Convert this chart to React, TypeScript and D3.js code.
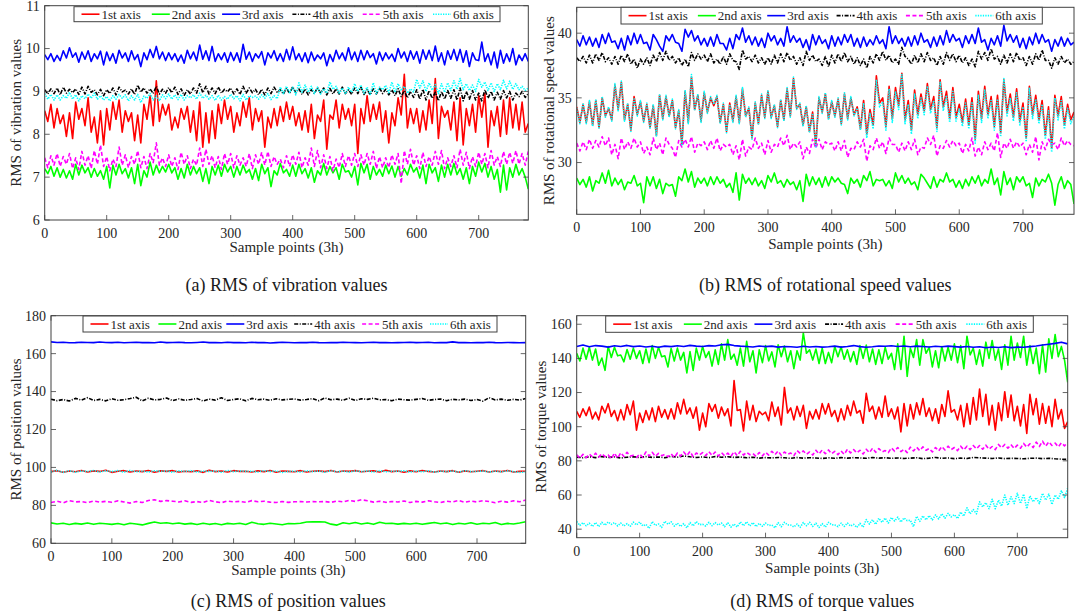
import React, { useEffect, useRef } from 'react';
import * as d3 from 'd3';

// every series spans sample points 0 .. 780; values are evenly spaced over that range
const X_MAX = 780;

const seriesNames = ['1st axis', '2nd axis', '3rd axis', '4th axis', '5th axis', '6th axis'];
const xTicks = [0, 100, 200, 300, 400, 500, 600, 700];

// (a) RMS of vibration values (one value per 5 samples)
const vib1 = [
  8.55, 8.30, 8.70, 8.15, 8.60, 8.25, 8.45, 7.95, 8.50, 7.90,
  8.75, 8.35, 8.60, 8.20, 8.85, 8.05, 8.40, 7.80, 8.55, 7.75,
  8.60, 8.10, 8.75, 8.35, 8.80, 8.05, 8.55, 8.30, 8.50, 7.85,
  8.45, 7.80, 8.70, 8.35, 8.90, 8.20, 9.25, 8.30, 8.70, 8.45,
  8.70, 8.10, 8.40, 8.15, 8.60, 8.35, 8.65, 8.05, 8.55, 7.85,
  8.75, 7.70, 8.50, 7.80, 8.55, 7.90, 8.70, 8.25, 8.80, 8.35,
  8.65, 8.05, 8.50, 8.20, 8.75, 8.40, 8.85, 8.10, 8.60, 8.30,
  8.55, 7.70, 8.40, 8.15, 8.60, 8.20, 8.65, 8.30, 8.75, 8.35,
  8.65, 8.20, 8.50, 8.10, 8.55, 8.05, 8.70, 7.90, 8.45, 8.30,
  8.80, 7.65, 8.45, 8.35, 8.80, 8.15, 8.70, 8.35, 8.60, 8.20,
  8.70, 7.55, 8.60, 8.25, 8.90, 8.30, 8.70, 8.35, 8.75, 8.05,
  8.55, 7.80, 8.50, 8.20, 8.85, 8.45, 9.40, 8.15, 8.60, 8.25,
  8.60, 8.05, 8.55, 8.10, 8.80, 8.25, 9.30, 7.90, 8.65, 8.40,
  8.55, 8.10, 8.75, 7.85, 8.85, 7.75, 8.60, 8.20, 8.70, 8.05,
  8.90, 8.40, 8.95, 7.70, 8.55, 8.20, 8.65, 7.95, 8.80, 8.00,
  8.85, 8.15, 8.70, 8.10, 8.75, 8.05, 8.25,
];
const vib2 = [
  7.20, 7.08, 7.25, 7.02, 7.22, 7.00, 7.18, 6.98, 7.15, 6.95,
  7.30, 7.05, 7.28, 7.10, 7.22, 7.00, 7.20, 7.02, 7.15, 6.95,
  7.25, 6.75, 7.28, 7.05, 7.30, 7.08, 7.20, 6.98, 7.22, 6.85,
  7.30, 6.80, 7.15, 7.00, 7.35, 7.05, 7.28, 7.10, 7.25, 7.12,
  7.30, 7.10, 7.22, 6.95, 7.20, 6.98, 7.30, 7.05, 7.25, 7.08,
  7.22, 6.90, 7.20, 6.85, 7.25, 7.05, 7.28, 7.02, 7.30, 7.12,
  7.25, 7.00, 7.25, 7.05, 7.28, 7.10, 7.18, 6.95, 7.20, 6.92,
  7.30, 7.08, 7.22, 6.78, 7.15, 7.05, 7.32, 7.10, 7.18, 7.02,
  7.28, 7.02, 7.30, 7.08, 7.20, 6.98, 7.22, 6.88, 7.15, 7.05,
  7.32, 7.05, 7.25, 7.10, 7.22, 6.95, 7.30, 7.12, 7.15, 7.00,
  7.25, 6.82, 7.32, 7.10, 7.30, 6.95, 7.25, 7.05, 7.18, 7.02,
  7.28, 7.08, 7.26, 7.00, 7.25, 7.02, 7.20, 7.05, 7.30, 7.12,
  7.22, 6.98, 7.28, 6.85, 7.30, 7.10, 7.22, 6.90, 7.28, 7.00,
  7.30, 7.05, 7.32, 7.06, 7.20, 6.95, 7.22, 6.85, 7.25, 7.02,
  7.35, 7.12, 7.32, 7.00, 7.25, 6.95, 7.18, 6.65, 7.28, 6.70,
  7.22, 7.00, 7.30, 7.05, 7.20, 7.00, 6.72,
];
const vib3 = [
  9.86, 9.74, 9.88, 9.70, 9.84, 9.72, 9.95, 9.78, 10.02, 9.80,
  9.90, 9.68, 9.92, 9.75, 9.95, 9.70, 9.88, 9.76, 9.94, 9.62,
  9.92, 9.72, 9.88, 9.66, 9.96, 9.78, 9.90, 9.70, 9.95, 9.74,
  9.86, 9.58, 9.90, 9.74, 9.98, 9.79, 10.05, 9.76, 9.92, 9.72,
  9.90, 9.74, 9.88, 9.70, 9.85, 9.66, 9.96, 9.76, 9.92, 9.72,
  10.08, 9.75, 9.95, 9.72, 10.05, 9.70, 9.88, 9.74, 9.90, 9.68,
  9.91, 9.72, 9.90, 9.68, 10.10, 9.75, 9.92, 9.70, 9.88, 9.78,
  9.93, 9.62, 9.90, 9.78, 9.95, 9.72, 9.88, 9.70, 9.98, 9.74,
  10.04, 9.74, 9.88, 9.70, 9.90, 9.67, 9.92, 9.72, 9.85, 9.76,
  9.90, 9.60, 9.86, 9.70, 9.96, 9.76, 9.90, 9.72, 10.02, 9.74,
  9.92, 9.70, 9.96, 9.74, 9.95, 9.79, 9.88, 9.64, 9.92, 9.72,
  9.90, 9.76, 9.87, 9.70, 10.00, 9.78, 9.92, 9.70, 9.95, 9.75,
  9.93, 9.66, 9.97, 9.75, 9.96, 9.72, 10.06, 9.70, 9.90, 9.62,
  9.95, 9.75, 9.98, 9.72, 9.98, 9.68, 9.95, 9.58, 9.90, 9.74,
  9.72, 10.15, 9.70, 9.88, 9.62, 9.92, 9.55, 9.96, 9.66, 9.88,
  9.70, 10.00, 9.62, 9.85, 9.72, 9.88, 9.70,
];
const vib4 = [
  9.04, 8.94, 9.06, 8.95, 9.08, 8.92, 9.10, 8.96, 9.05, 8.97,
  9.06, 8.93, 9.10, 8.94, 9.12, 8.98, 9.04, 8.92, 9.05, 8.90,
  9.04, 8.95, 9.08, 8.92, 9.10, 8.99, 9.03, 8.94, 9.06, 8.93,
  9.15, 8.98, 9.08, 8.96, 9.06, 8.95, 9.12, 8.94, 9.05, 8.96,
  9.09, 8.97, 9.10, 8.93, 9.06, 8.91, 9.04, 8.94, 9.08, 8.96,
  9.18, 8.97, 9.12, 8.94, 9.08, 8.95, 9.10, 8.96, 9.05, 8.99,
  9.08, 8.94, 9.06, 8.93, 9.12, 8.96, 9.08, 8.97, 9.05, 8.92,
  9.05, 8.92, 9.08, 8.95, 9.10, 8.98, 9.04, 8.94, 9.08, 8.95,
  9.11, 8.97, 9.06, 8.93, 9.06, 8.92, 9.04, 8.95, 9.09, 8.96,
  9.08, 8.92, 9.07, 8.94, 9.06, 8.94, 9.10, 8.95, 9.04, 8.93,
  9.08, 8.95, 9.10, 8.93, 9.04, 8.92, 9.06, 8.94, 9.08, 8.95,
  9.05, 8.92, 9.04, 8.90, 9.06, 8.88, 9.02, 8.85, 9.00, 8.86,
  9.04, 8.82, 9.05, 8.80, 9.02, 8.84, 8.98, 8.78, 9.00, 8.82,
  9.02, 8.84, 9.04, 8.80, 9.08, 8.78, 9.00, 8.82, 9.02, 8.80,
  8.96, 8.78, 9.04, 8.84, 9.00, 8.80, 8.98, 8.82, 9.02, 8.85,
  9.00, 8.80, 8.96, 8.88, 9.00, 8.86, 8.95,
];
const vib5 = [
  7.45, 7.22, 7.50, 7.28, 7.55, 7.25, 7.48, 7.30, 7.55, 7.20,
  7.45, 7.18, 7.60, 7.28, 7.50, 7.20, 7.62, 7.30, 7.75, 7.25,
  7.48, 7.15, 7.42, 7.25, 7.70, 7.28, 7.52, 7.22, 7.48, 7.30,
  7.62, 7.22, 7.48, 7.20, 7.55, 7.34, 7.80, 7.28, 7.45, 7.25,
  7.52, 7.25, 7.45, 7.18, 7.58, 7.30, 7.50, 7.20, 7.42, 7.28,
  7.68, 7.25, 7.65, 7.30, 7.50, 7.22, 7.48, 7.18, 7.55, 7.30,
  7.55, 7.22, 7.50, 7.28, 7.45, 7.25, 7.55, 7.20, 7.52, 7.30,
  7.58, 7.28, 7.60, 7.25, 7.48, 7.30, 7.42, 7.22, 7.50, 7.25,
  7.52, 7.30, 7.58, 7.22, 7.45, 7.28, 7.68, 7.25, 7.62, 7.22,
  7.52, 7.20, 7.48, 7.15, 7.42, 7.22, 7.55, 7.25, 7.50, 7.28,
  7.55, 7.25, 7.52, 7.28, 7.55, 7.30, 7.60, 7.20, 7.48, 7.22,
  7.45, 7.22, 7.52, 7.30, 7.55, 6.85, 7.62, 7.30, 7.65, 7.28,
  7.50, 7.20, 7.58, 7.25, 7.48, 7.28, 7.60, 7.30, 7.62, 7.20,
  7.45, 7.25, 7.50, 7.22, 7.65, 7.28, 7.58, 7.20, 7.48, 7.25,
  7.58, 7.30, 7.55, 7.22, 7.62, 7.28, 7.48, 7.25, 7.60, 7.30,
  7.58, 7.32, 7.62, 7.30, 7.55, 7.28, 7.60,
];
const vib6 = [
  8.95, 8.82, 8.93, 8.80, 8.92, 8.80, 8.90, 8.84, 8.98, 8.82,
  8.92, 8.78, 8.90, 8.83, 8.94, 8.84, 8.96, 8.82, 8.90, 8.80,
  8.88, 8.78, 8.90, 8.82, 8.93, 8.84, 8.92, 8.78, 8.90, 8.80,
  8.93, 8.74, 8.89, 8.84, 8.95, 8.80, 8.90, 8.78, 8.92, 8.83,
  8.94, 8.82, 8.92, 8.81, 8.93, 8.80, 8.90, 8.85, 8.92, 8.82,
  8.96, 8.84, 8.91, 8.82, 8.90, 8.79, 8.91, 8.80, 8.88, 8.82,
  8.93, 8.83, 8.90, 8.78, 8.93, 8.80, 8.90, 8.86, 8.89, 8.82,
  8.92, 8.84, 8.95, 8.81, 8.90, 8.83, 9.10, 8.95, 9.12, 8.97,
  9.10, 8.92, 9.20, 8.98, 9.15, 8.98, 9.12, 8.95, 9.10, 8.94,
  9.06, 8.96, 9.22, 9.05, 9.12, 8.96, 9.08, 8.94, 9.10, 8.98,
  9.18, 9.00, 9.15, 8.96, 9.10, 8.93, 9.20, 8.95, 9.10, 9.04,
  9.14, 8.97, 9.22, 8.98, 9.18, 9.02, 9.12, 8.96, 9.06, 8.99,
  9.28, 9.08, 9.25, 9.00, 9.20, 9.03, 9.16, 8.95, 9.18, 8.98,
  9.20, 9.02, 9.25, 9.05, 9.30, 9.04, 9.18, 9.02, 9.15, 9.00,
  9.28, 9.10, 9.22, 9.02, 9.20, 9.00, 9.18, 9.04, 9.26, 9.06,
  9.24, 9.05, 9.18, 9.04, 9.12, 9.02, 9.08,
];

// (b) RMS of rotational speed values (one value per 5 samples)
const spd1 = [
  34.3, 33.1, 34.5, 33.1, 34.7, 32.9, 34.8, 32.7, 35.0, 33.6,
  34.2, 33.3, 36.0, 34.1, 36.2, 33.3, 34.5, 32.5, 35.1, 33.7,
  34.7, 33.2, 34.5, 32.7, 34.4, 32.1, 35.2, 33.4, 35.1, 33.6,
  34.8, 32.7, 34.0, 31.4, 35.5, 33.1, 36.6, 34.1, 35.2, 33.2,
  35.4, 33.9, 35.0, 34.4, 35.1, 33.1, 34.5, 32.4, 34.6, 33.2,
  35.1, 33.1, 35.7, 33.6, 34.2, 31.9, 34.6, 33.0, 35.2, 33.5,
  35.5, 33.5, 34.4, 32.8, 34.8, 33.3, 35.7, 33.6, 36.5, 34.2,
  34.5, 32.9, 34.3, 32.4, 33.9, 31.3, 35.0, 33.9, 35.3, 33.4,
  34.7, 33.6, 34.9, 33.0, 35.3, 33.4, 35.0, 33.7, 34.3, 32.6,
  34.8, 32.2, 34.1, 32.9, 36.7, 34.6, 35.0, 32.8, 35.9, 33.4,
  35.8, 34.4, 36.9, 33.3, 34.8, 32.5, 35.6, 33.7, 35.3, 34.0,
  36.1, 34.1, 35.1, 32.7, 36.4, 34.3, 35.5, 33.4, 35.8, 33.5,
  34.5, 33.1, 34.9, 32.9, 35.0, 31.8, 35.5, 33.4, 35.9, 33.7,
  35.1, 32.8, 35.2, 32.3, 36.4, 33.9, 35.3, 33.5, 35.7, 33.2,
  34.6, 31.9, 35.9, 33.7, 35.2, 33.3, 34.8, 32.1, 34.3, 31.1,
  35.2, 33.6, 35.1, 32.9, 34.5, 33.3, 33.9,
];
const spd2 = [
  28.8, 28.3, 28.7, 28.1, 28.9, 27.8, 28.6, 28.4, 29.2, 28.4,
  29.4, 28.2, 28.8, 28.3, 28.7, 27.9, 28.5, 28.4, 29.0, 28.2,
  28.4, 26.9, 28.9, 28.2, 28.9, 28.0, 28.7, 27.6, 28.4, 28.2,
  28.3, 27.4, 28.9, 28.6, 29.5, 28.5, 29.3, 28.1, 28.8, 28.4,
  28.8, 28.2, 28.9, 28.3, 28.9, 28.4, 28.7, 28.1, 28.4, 27.7,
  29.2, 27.1, 29.1, 28.4, 28.8, 28.3, 28.8, 28.2, 28.6, 28.0,
  29.0, 28.5, 29.2, 28.4, 28.6, 28.1, 28.7, 28.3, 28.5, 27.9,
  28.6, 27.0, 29.1, 28.2, 28.9, 28.3, 28.8, 28.1, 28.9, 28.2,
  28.9, 28.5, 28.8, 28.4, 28.3, 27.6, 28.8, 28.4, 28.7, 28.1,
  29.0, 28.6, 29.3, 28.2, 28.7, 28.6, 28.7, 28.2, 28.6, 28.0,
  29.2, 28.5, 29.0, 28.4, 28.8, 28.3, 28.5, 27.9, 29.1, 28.8,
  28.4, 28.0, 28.9, 28.1, 28.7, 28.5, 29.2, 28.5, 28.7, 28.1,
  28.6, 28.0, 28.7, 28.2, 28.9, 28.4, 29.0, 28.2, 28.7, 28.4,
  29.5, 28.3, 28.8, 27.5, 29.3, 28.3, 28.8, 27.9, 28.9, 28.5,
  28.9, 28.2, 28.4, 27.3, 28.8, 28.2, 28.7, 28.5, 29.1, 28.4,
  26.7, 28.3, 28.9, 28.0, 28.6, 28.3, 26.8,
];
const spd3 = [
  39.5, 39.0, 39.8, 39.1, 39.7, 39.0, 39.6, 38.9, 39.9, 39.2,
  40.0, 39.3, 39.4, 38.8, 39.6, 38.7, 39.8, 39.1, 40.0, 39.2,
  39.9, 39.2, 39.3, 38.7, 39.9, 39.5, 39.0, 38.6, 39.8, 39.4,
  39.9, 39.3, 39.2, 38.6, 40.3, 39.7, 40.2, 39.4, 39.8, 39.1,
  39.6, 39.0, 39.7, 39.0, 39.9, 39.2, 39.2, 38.7, 39.6, 38.8,
  39.9, 39.5, 40.4, 39.3, 39.8, 39.1, 39.7, 39.0, 39.6, 38.9,
  40.0, 39.4, 39.8, 39.1, 39.6, 39.0, 40.5, 39.3, 39.8, 39.3,
  39.6, 38.9, 39.5, 38.7, 39.9, 39.1, 39.8, 39.2, 39.5, 38.8,
  39.8, 39.0, 39.7, 39.1, 39.9, 39.3, 39.9, 39.0, 39.6, 38.9,
  39.7, 39.0, 39.5, 39.1, 39.8, 39.2, 39.5, 38.8, 40.5, 39.2,
  39.8, 39.2, 39.6, 39.0, 39.7, 39.0, 39.8, 39.1, 40.0, 39.3,
  39.5, 38.9, 39.7, 39.0, 39.8, 39.1, 40.2, 39.3, 39.9, 39.4,
  39.6, 38.9, 39.8, 39.2, 39.9, 39.2, 40.4, 39.3, 39.5, 38.7,
  39.6, 39.1, 39.8, 39.0, 40.6, 39.4, 39.9, 39.3, 39.8, 38.9,
  39.6, 38.8, 39.7, 39.1, 40.0, 39.2, 39.9, 39.3, 39.5, 38.6,
  39.5, 39.0, 39.7, 39.0, 39.6, 39.1, 39.3,
];
const spd4 = [
  38.1, 37.8, 38.2, 37.7, 38.3, 37.7, 38.4, 37.9, 38.5, 37.8,
  38.1, 37.6, 38.2, 37.6, 38.3, 37.8, 38.4, 37.6, 38.0, 37.3,
  38.0, 37.6, 38.1, 37.5, 38.3, 37.8, 38.5, 37.9, 38.6, 37.9,
  38.2, 37.7, 38.1, 37.5, 38.0, 37.4, 38.5, 37.9, 38.4, 38.0,
  38.3, 37.8, 38.4, 37.7, 38.0, 37.6, 38.2, 37.6, 38.4, 37.9,
  37.8, 37.2, 38.7, 38.0, 38.2, 37.8, 38.3, 37.7, 38.1, 37.6,
  38.1, 37.6, 38.3, 37.7, 38.4, 37.8, 38.5, 37.9, 38.2, 37.6,
  38.1, 37.5, 38.6, 37.9, 38.3, 37.8, 38.0, 37.5, 38.2, 37.4,
  38.3, 37.7, 38.4, 37.8, 38.5, 37.8, 38.2, 37.6, 38.1, 37.5,
  38.0, 37.3, 38.2, 37.7, 38.4, 37.9, 38.6, 37.9, 38.3, 37.7,
  38.0, 37.6, 38.9, 38.2, 38.0, 37.6, 38.3, 37.7, 38.4, 37.8,
  38.5, 37.9, 38.1, 37.5, 38.2, 37.6, 38.5, 37.9, 38.4, 37.8,
  38.3, 37.7, 38.1, 37.5, 38.0, 37.4, 38.6, 38.0, 38.5, 37.9,
  38.8, 38.0, 38.2, 37.6, 38.3, 37.7, 38.4, 37.8, 38.5, 37.9,
  38.1, 37.5, 38.2, 37.6, 38.4, 37.9, 38.7, 37.9, 37.9, 37.3,
  38.1, 37.6, 38.2, 37.7, 38.0, 37.6, 37.8,
];
const spd5 = [
  31.5, 30.9, 31.6, 31.0, 31.8, 31.1, 31.7, 31.2, 32.0, 31.3,
  31.9, 30.6, 31.4, 30.3, 31.9, 31.0, 31.6, 31.1, 31.9, 31.2,
  31.6, 30.7, 31.2, 30.6, 31.9, 31.0, 31.5, 30.6, 31.9, 31.4,
  31.1, 30.4, 31.7, 31.2, 31.8, 31.2, 32.0, 30.8, 31.5, 31.3,
  31.6, 31.0, 31.7, 31.1, 31.9, 30.9, 31.4, 31.2, 31.4, 30.6,
  31.3, 30.2, 31.8, 30.5, 31.2, 31.0, 31.9, 31.1, 31.5, 30.6,
  31.7, 30.8, 31.4, 31.2, 31.9, 31.3, 32.1, 31.0, 31.5, 31.2,
  31.6, 30.3, 31.2, 30.7, 31.8, 31.1, 31.8, 31.0, 31.6, 31.4,
  31.5, 30.9, 31.6, 30.9, 31.7, 30.4, 31.1, 31.0, 31.6, 31.2,
  31.8, 30.1, 31.3, 31.0, 31.9, 31.1, 31.6, 30.7, 31.9, 31.4,
  31.4, 30.8, 31.5, 30.9, 31.6, 31.0, 31.8, 30.6, 31.2, 31.1,
  31.9, 31.4, 32.1, 30.5, 31.3, 31.1, 31.7, 31.2, 31.7, 31.3,
  31.5, 30.7, 31.4, 30.9, 31.9, 30.5, 31.2, 30.6, 31.6, 31.0,
  31.5, 30.9, 32.3, 30.4, 31.5, 31.1, 31.8, 31.1, 31.6, 31.2,
  31.5, 30.6, 31.4, 30.8, 32.0, 30.2, 31.6, 31.0, 31.8, 31.4,
  31.5, 31.0, 31.9, 31.3, 31.7, 31.4, 31.3,
];
const spd6 = [
  34.2, 33.0, 34.6, 33.0, 34.8, 32.8, 34.9, 32.6, 35.1, 33.5,
  34.3, 33.2, 36.1, 34.0, 36.3, 33.2, 34.6, 32.4, 35.0, 33.6,
  34.8, 33.1, 34.6, 32.6, 34.5, 32.0, 35.3, 33.3, 35.2, 33.5,
  34.9, 32.6, 34.1, 31.3, 35.6, 33.0, 36.8, 34.0, 35.3, 33.1,
  35.5, 33.8, 35.1, 34.5, 35.2, 33.0, 34.6, 32.3, 34.5, 33.1,
  35.2, 33.0, 35.8, 33.5, 34.3, 31.8, 34.7, 32.9, 35.3, 33.4,
  35.6, 33.4, 34.5, 32.7, 34.9, 33.2, 35.8, 33.5, 36.6, 34.1,
  34.6, 32.8, 34.4, 32.3, 33.8, 31.2, 35.1, 33.8, 35.4, 33.3,
  34.8, 33.5, 35.0, 32.9, 35.4, 33.3, 35.1, 33.6, 34.2, 32.5,
  34.6, 31.9, 33.8, 32.6, 36.4, 34.3, 34.7, 32.5, 35.7, 33.1,
  35.5, 34.1, 36.8, 33.0, 34.5, 32.2, 35.3, 33.4, 35.0, 33.7,
  35.9, 33.8, 34.8, 32.4, 36.2, 34.0, 35.2, 33.1, 35.5, 33.2,
  34.2, 32.8, 34.6, 32.6, 34.7, 31.5, 35.2, 33.1, 35.6, 33.4,
  34.8, 32.5, 34.9, 32.0, 36.5, 33.6, 35.0, 33.2, 35.4, 32.9,
  34.3, 31.6, 35.8, 33.4, 34.9, 33.0, 34.5, 31.8, 34.0, 30.8,
  35.0, 33.3, 34.8, 32.6, 34.2, 33.0, 33.6,
];

// (c) RMS of position values (one value per 10 samples)
const pos1 = [
  97.8, 98.3, 97.5, 98.1, 97.7, 98.4, 97.6, 98.2, 97.9, 98.5,
  97.4, 98.0, 98.3, 97.6, 98.1, 97.8, 98.4, 97.5, 98.2, 97.9,
  98.3, 97.6, 98.0, 97.7, 98.2, 97.4, 98.5, 97.8, 98.1, 97.6,
  98.3, 97.9, 98.0, 97.6, 98.2, 97.8, 98.4, 97.5, 98.1, 97.9,
  97.7, 98.3, 97.6, 98.0, 98.2, 97.8, 98.4, 97.6, 98.1, 97.9,
  98.3, 97.7, 98.0, 98.2, 97.6, 98.5, 97.8, 98.1, 97.5, 98.2,
  97.7, 98.4, 97.9, 97.6, 98.1, 97.8, 98.3, 97.5, 98.2, 97.7,
  98.0, 98.3, 97.6, 98.1, 97.8, 98.4, 97.6, 97.9, 98.0,
];
const pos2 = [
  70.8, 70.2, 70.6, 69.9, 70.5, 70.1, 70.7, 70.0, 70.6, 70.3,
  70.0, 70.4, 69.8, 70.6, 70.2, 69.7, 70.5, 71.2, 70.6, 70.8,
  70.3, 70.7, 70.1, 70.5, 69.9, 70.6, 70.0, 70.4, 69.8, 70.5,
  70.2, 70.6, 69.9, 71.1, 70.3, 70.0, 70.6, 70.2, 69.8, 70.4,
  70.3, 70.6, 71.2, 71.3, 71.3, 71.2, 70.1, 69.6, 70.8, 70.3,
  71.0, 70.2, 70.7, 70.0, 71.1, 70.4, 70.6, 70.1, 70.5, 70.2,
  70.6, 70.0, 70.5, 71.0, 70.3, 70.7, 69.9, 70.6, 70.2, 70.8,
  70.0, 70.6, 70.3, 71.0, 69.9, 70.5, 70.2, 70.7, 71.4,
];
const pos3 = [
  166.2, 165.9, 166.0, 165.7, 165.8, 166.0, 165.9, 165.8, 166.1, 165.9,
  165.8, 166.0, 165.7, 165.9, 166.0, 165.8, 165.9, 165.7, 166.1, 165.8,
  165.9, 166.0, 165.8, 165.7, 165.9, 166.1, 165.8, 165.9, 165.7, 166.0,
  165.8, 165.9, 165.7, 166.0, 165.8, 165.9, 165.6, 165.8, 166.0, 165.9,
  165.7, 165.9, 165.8, 166.0, 165.8, 165.7, 165.9, 165.8, 166.0, 165.9,
  165.8, 165.7, 165.9, 166.0, 165.8, 165.9, 165.7, 165.8, 165.9, 166.0,
  165.8, 165.9, 166.0, 165.7, 165.9, 165.8, 166.2, 165.8, 165.9, 165.7,
  165.9, 165.8, 166.0, 165.8, 165.7, 165.9, 165.8, 165.7, 165.8,
];
const pos4 = [
  136.0, 135.2, 135.8, 135.0, 136.4, 135.5, 136.8, 135.3, 135.9, 135.1,
  136.2, 135.4, 135.7, 136.3, 137.0, 135.1, 136.5, 135.6, 135.9, 136.6,
  135.2, 136.1, 135.4, 135.8, 136.3, 135.0, 136.0, 135.5, 136.7, 135.3,
  135.8, 136.2, 135.1, 136.4, 135.7, 136.0, 135.4, 136.2, 135.6, 135.9,
  136.1, 135.5, 135.8, 136.3, 135.2, 136.6, 135.7, 136.0, 135.4, 136.5,
  135.3, 136.2, 135.9, 136.5, 135.6, 135.8, 135.2, 136.0, 135.7, 135.5,
  135.9, 136.3, 135.4, 135.8, 136.1, 135.2, 135.9, 135.6, 136.0, 135.3,
  135.8, 134.9, 136.8, 135.6, 136.0, 135.4, 135.9, 135.5, 136.3,
];
const pos5 = [
  81.5, 82.2, 81.3, 82.5, 81.8, 82.0, 81.4, 82.3, 81.7, 82.1,
  81.6, 82.4, 81.8, 81.2, 82.0, 81.5, 82.6, 83.0, 82.1, 82.5,
  82.2, 81.8, 82.4, 81.6, 82.0, 81.5, 82.6, 81.9, 81.4, 82.3,
  81.8, 82.1, 81.6, 82.5, 81.9, 82.2, 81.7, 81.5, 82.0, 81.6,
  81.9, 82.0, 81.8, 82.0, 81.9, 82.0, 81.6, 82.3, 81.8, 82.6,
  82.1, 83.0, 82.4, 81.7, 82.2, 81.6, 82.0, 81.8, 82.3, 81.5,
  82.1, 81.7, 82.4, 81.9, 81.5, 82.2, 81.8, 82.6, 81.6, 82.3,
  81.8, 82.5, 82.0, 81.4, 82.2, 81.7, 82.4, 81.9, 82.8,
];
const pos6 = [
  97.6, 98.5, 97.4, 98.3, 97.5, 98.1, 97.9, 98.4, 97.6, 98.2,
  97.8, 98.3, 97.5, 98.4, 97.7, 98.0, 97.6, 98.2, 97.9, 98.1,
  97.5, 98.2, 97.8, 98.3, 97.6, 98.0, 97.9, 98.1, 97.5, 98.4,
  97.7, 98.2, 97.9, 98.0, 97.6, 98.3, 97.8, 98.1, 97.4, 97.9,
  98.0, 97.6, 98.2, 97.8, 98.1, 97.5, 98.3, 97.7, 98.0, 97.6,
  98.2, 97.8, 98.1, 97.6, 98.3, 97.7, 98.0, 97.9, 98.2, 97.6,
  98.1, 97.7, 98.2, 97.5, 98.0, 97.8, 98.1, 97.6, 98.3, 97.8,
  97.9, 98.1, 97.6, 98.0, 97.7, 98.2, 97.8, 97.4, 97.6,
];

// (d) RMS of torque values (noisy series one value per 5 samples, smooth ones per 10)
const trq1 = [
  109.0, 105.5, 110.5, 106.5, 111.5, 104.5, 108.5, 104.0, 112.0, 108.0,
  113.5, 106.0, 109.5, 103.5, 110.0, 104.0, 113.0, 107.0, 115.0, 98.0,
  108.0, 102.5, 109.5, 104.0, 111.0, 103.0, 112.0, 105.5, 110.0, 104.5,
  110.5, 104.5, 114.0, 107.5, 116.0, 107.5, 111.0, 105.0, 111.5, 98.0,
  108.0, 100.0, 113.5, 109.0, 113.0, 105.0, 111.5, 106.5, 110.5, 100.5,
  127.0, 109.5, 110.0, 97.5, 115.0, 104.0, 112.5, 103.0, 109.0, 107.0,
  108.5, 103.5, 114.5, 106.0, 111.5, 101.0, 123.0, 108.0, 111.0, 104.0,
  112.0, 106.0, 112.5, 99.0, 109.0, 104.5, 110.0, 104.5, 113.5, 107.5,
  113.5, 106.0, 109.5, 103.0, 110.5, 104.0, 112.5, 106.5, 115.0, 108.0,
  109.5, 102.0, 119.5, 109.0, 112.0, 104.5, 111.5, 105.5, 118.0, 106.0,
  110.5, 104.5, 111.5, 97.0, 113.5, 100.5, 113.0, 104.5, 114.0, 107.0,
  116.5, 106.0, 111.0, 103.5, 110.5, 102.0, 113.0, 106.0, 121.0, 108.5,
  110.0, 104.0, 112.5, 100.0, 113.5, 101.5, 117.0, 104.0, 122.0, 106.0,
  119.0, 101.0, 112.5, 98.0, 114.0, 103.5, 120.5, 105.5, 118.5, 103.5,
  112.0, 100.5, 113.0, 96.0, 119.0, 107.0, 116.5, 101.5, 113.5, 102.0,
  112.0, 100.0, 116.0, 104.5, 110.0, 99.0, 103.0,
];
const trq2 = [
  143.0, 138.5, 146.0, 139.5, 146.5, 139.0, 145.5, 136.0, 140.2, 133.0,
  147.0, 140.5, 146.5, 141.5, 142.0, 138.0, 145.2, 139.5, 146.0, 140.0,
  144.5, 137.0, 145.5, 137.5, 147.5, 140.0, 146.5, 141.0, 141.5, 135.0,
  145.8, 138.5, 146.0, 139.0, 143.5, 131.5, 144.0, 133.0, 146.0, 139.0,
  147.0, 140.5, 144.0, 135.5, 145.0, 136.5, 148.5, 139.0, 151.0, 139.5,
  142.5, 136.0, 146.0, 135.5, 150.0, 138.0, 144.5, 131.5, 145.0, 137.5,
  147.5, 138.5, 143.8, 135.0, 148.0, 141.0, 147.2, 138.0, 144.5, 134.0,
  144.5, 139.0, 155.0, 143.0, 145.0, 139.0, 145.5, 137.0, 146.0, 137.0,
  143.5, 137.5, 147.0, 141.0, 146.8, 139.5, 145.0, 138.0, 144.0, 136.5,
  147.5, 140.0, 147.8, 138.0, 145.5, 136.5, 145.0, 137.0, 146.5, 139.5,
  143.0, 133.5, 148.5, 133.5, 153.0, 129.5, 146.0, 140.5, 151.0, 136.0,
  151.0, 143.0, 146.5, 135.0, 144.5, 134.5, 147.0, 138.5, 146.5, 139.0,
  148.5, 137.5, 147.5, 134.0, 153.0, 142.0, 146.0, 136.5, 145.0, 135.5,
  149.5, 140.0, 150.5, 139.0, 145.5, 133.5, 148.0, 136.0, 153.0, 139.0,
  149.0, 140.5, 153.0, 136.0, 147.5, 137.0, 146.0, 131.0, 148.0, 132.0,
  151.5, 140.0, 154.0, 141.0, 147.0, 139.0, 126.0,
];
const trq3 = [
  147.0, 147.8, 146.8, 147.5, 147.2, 146.6, 147.4, 147.0, 147.6, 146.9,
  147.3, 146.7, 147.1, 146.5, 147.2, 146.9, 147.4, 147.0, 147.6, 147.2,
  147.0, 147.5, 147.3, 148.0, 148.2, 147.5, 147.2, 147.0, 146.7, 147.3,
  146.9, 147.2, 146.6, 147.0, 146.8, 146.5, 147.1, 146.7, 147.0, 146.6,
  146.8, 147.2, 146.6, 147.0, 147.5, 146.9, 146.5, 146.8, 147.3, 147.1,
  147.4, 147.0, 147.3, 146.8, 147.2, 147.0, 146.7, 147.1, 146.8, 147.2,
  146.9, 146.6, 147.0, 146.5, 146.8, 146.2, 146.7, 146.4, 146.8, 146.3,
  146.6, 146.5, 146.9, 147.3, 147.8, 148.3, 148.8, 149.5, 148.5,
];
const trq4 = [
  82.2, 81.8, 82.4, 81.9, 82.5, 82.0, 82.3, 81.7, 82.1, 82.4,
  81.9, 82.5, 82.0, 82.3, 81.8, 82.6, 82.2, 82.9, 82.4, 82.0,
  82.3, 81.9, 82.5, 82.1, 82.4, 82.0, 82.2, 81.8, 82.1, 81.6,
  81.9, 81.7, 82.0, 81.8, 81.5, 81.9, 81.6, 81.8, 81.7, 81.4,
  81.8, 81.5, 81.9, 81.6, 81.9, 81.7, 81.5, 82.0, 81.6, 81.8,
  81.5, 81.7, 81.4, 81.6, 81.8, 81.3, 81.6, 82.0, 81.5, 81.7,
  81.3, 81.6, 81.4, 82.0, 81.8, 81.6, 81.4, 81.7, 81.3, 81.5,
  81.4, 81.2, 81.5, 81.6, 81.3, 81.5, 81.2, 81.0, 80.8,
];
const trq5 = [
  83.6, 81.6, 83.8, 81.8, 84.0, 82.4, 84.5, 82.2, 84.2, 82.5,
  83.5, 81.2, 84.6, 81.5, 84.8, 82.6, 85.0, 82.8, 83.2, 82.0,
  84.0, 82.0, 85.2, 82.8, 85.0, 82.6, 84.4, 83.0, 83.8, 82.4,
  84.2, 81.9, 84.6, 82.8, 85.2, 83.0, 85.5, 82.4, 84.6, 83.4,
  84.8, 83.0, 85.4, 83.2, 85.2, 82.8, 84.8, 83.0, 84.5, 82.6,
  85.4, 83.0, 85.6, 83.4, 85.0, 83.6, 84.2, 82.6, 84.9, 82.9,
  85.0, 83.4, 85.6, 83.6, 85.8, 83.2, 85.2, 83.8, 84.6, 83.0,
  86.0, 84.4, 85.8, 83.8, 85.2, 83.4, 86.2, 84.0, 86.4, 84.2,
  86.4, 84.2, 85.6, 83.6, 85.8, 83.8, 86.8, 84.6, 86.6, 84.6,
  86.2, 84.0, 86.8, 84.8, 87.4, 85.0, 87.2, 85.2, 86.0, 84.8,
  87.6, 85.6, 87.8, 85.4, 86.8, 84.8, 88.0, 85.8, 88.0, 86.0,
  88.2, 86.2, 87.2, 85.2, 87.8, 85.8, 88.4, 86.4, 88.6, 86.6,
  87.8, 86.0, 88.6, 86.4, 88.6, 86.6, 89.0, 87.0, 89.0, 86.8,
  89.2, 86.8, 88.4, 86.6, 89.6, 87.6, 89.6, 87.4, 89.4, 87.2,
  89.2, 87.4, 90.2, 88.0, 90.0, 87.8, 91.0, 88.4, 91.5, 88.6,
  91.2, 89.0, 90.4, 88.2, 90.6, 88.8, 90.8,
];
const trq6 = [
  44.5, 42.2, 43.8, 42.0, 43.5, 41.6, 43.9, 41.5, 44.0, 42.3,
  44.2, 42.8, 43.8, 41.9, 43.6, 41.8, 43.2, 41.7, 44.1, 42.5,
  44.2, 41.9, 42.8, 40.5, 44.4, 42.2, 43.0, 41.0, 44.6, 42.9,
  44.3, 41.8, 43.5, 41.6, 43.2, 40.8, 43.9, 41.9, 44.4, 42.6,
  42.9, 41.8, 44.0, 42.0, 43.8, 42.4, 43.6, 41.5, 43.7, 41.2,
  43.0, 41.3, 44.2, 42.0, 44.3, 41.9, 43.8, 41.5, 43.4, 41.7,
  43.6, 42.2, 42.4, 40.8, 43.8, 41.4, 44.0, 42.5, 42.4, 41.3,
  43.0, 41.1, 43.9, 42.0, 44.0, 41.6, 43.5, 41.0, 43.2, 41.2,
  44.0, 42.6, 42.4, 41.5, 43.5, 41.6, 43.6, 41.8, 42.8, 41.0,
  43.4, 41.2, 45.6, 43.0, 45.5, 42.8, 46.4, 44.0, 46.5, 43.6,
  46.8, 44.8, 47.0, 44.2, 46.6, 45.0, 45.2, 41.5, 47.5, 44.6,
  47.8, 45.5, 48.0, 45.4, 48.4, 46.0, 49.0, 46.4, 49.2, 47.2,
  48.5, 46.2, 50.0, 47.6, 52.5, 49.0, 51.5, 49.0, 56.0, 53.0,
  55.5, 52.0, 57.5, 52.0, 57.0, 53.5, 60.0, 54.0, 59.0, 55.0,
  61.0, 55.0, 60.5, 52.0, 59.5, 56.0, 58.5, 55.0, 61.0, 57.0,
  60.5, 54.5, 60.0, 57.5, 62.5, 58.5, 64.0,
];

// MATLAB-like line specs: r-, g-, b-, k-., m--, c:
const lineStyles = [
  { color: '#ff0000', dash: null },
  { color: '#00ff00', dash: null },
  { color: '#0000ff', dash: null },
  { color: '#000000', dash: '4,1.5,1,1.5' },
  { color: '#ff00ff', dash: '4,2.5' },
  { color: '#00ffff', dash: '1.3,1.2' },
];
const LINE_WIDTH = 1.6;

interface PanelSpec {
  left: number;
  right: number;
  top: number;
  bottom: number;
  yDomain: [number, number];
  yTicks: number[];
  yLabel: string;
  yLabelX: number;
  xLabelY: number;
  caption: string;
  captionY: number;
  legendBox: [number, number, number, number]; // x0, x1, y0, y1
  series: number[][];
}

const panels: PanelSpec[] = [
  {
    left: 44.7, right: 528.3, top: 5.7, bottom: 220,
    yDomain: [6, 11], yTicks: [6, 7, 8, 9, 10, 11],
    yLabel: 'RMS of vibration values', yLabelX: 16, xLabelY: 247,
    caption: '(a) RMS of vibration values', captionY: 285,
    legendBox: [74, 500, 6.7, 21.7],
    series: [vib1, vib2, vib3, vib4, vib5, vib6],
  },
  {
    left: 576.7, right: 1074, top: 7.3, bottom: 214.3,
    yDomain: [26, 42], yTicks: [30, 35, 40],
    yLabel: 'RMS of rotational speed values', yLabelX: 549, xLabelY: 244,
    caption: '(b) RMS of rotational speed values', captionY: 285,
    legendBox: [621, 1042.3, 7.3, 24],
    series: [spd1, spd2, spd3, spd4, spd5, spd6],
  },
  {
    left: 51, right: 525.7, top: 315.7, bottom: 543.3,
    yDomain: [60, 180], yTicks: [60, 80, 100, 120, 140, 160, 180],
    yLabel: 'RMS of position values', yLabelX: 16, xLabelY: 570,
    caption: '(c) RMS of position values', captionY: 601,
    legendBox: [83, 497, 316, 332],
    series: [pos1, pos2, pos3, pos4, pos5, pos6],
  },
  {
    left: 576.7, right: 1067.7, top: 315.7, bottom: 537.7,
    yDomain: [35, 165], yTicks: [40, 60, 80, 100, 120, 140, 160],
    yLabel: 'RMS of torque values', yLabelX: 541, xLabelY: 568,
    caption: '(d) RMS of torque values', captionY: 601,
    legendBox: [605.7, 1033.3, 316, 332.3],
    series: [trq1, trq2, trq3, trq4, trq5, trq6],
  },
];

const FONT = '"Liberation Serif", "Times New Roman", serif';
const AXIS_COLOR = '#404040';
const TEXT_COLOR = '#262626';

type G = d3.Selection<SVGGElement, unknown, null, undefined>;

const drawPanel = (root: G, p: PanelSpec, idx: number) => {
  const x = d3.scaleLinear().domain([0, X_MAX]).range([p.left, p.right]);
  const y = d3.scaleLinear().domain(p.yDomain).range([p.bottom, p.top]);
  const g = root.append('g');

  const clipId = `panel-clip-${idx}`;
  g.append('clipPath').attr('id', clipId)
    .append('rect')
    .attr('x', p.left).attr('y', p.top)
    .attr('width', p.right - p.left).attr('height', p.bottom - p.top);

  // data lines, drawn in series order (6th on top)
  const lines = g.append('g').attr('clip-path', `url(#${clipId})`);
  p.series.forEach((vals, k) => {
    const step = X_MAX / (vals.length - 1);
    const lineGen = d3.line<number>().x((_, i) => x(i * step)).y(v => y(v));
    const st = lineStyles[k];
    const path = lines.append('path')
      .attr('d', lineGen(vals))
      .attr('fill', 'none')
      .attr('stroke', st.color)
      .attr('stroke-width', LINE_WIDTH)
      .attr('stroke-linejoin', 'round');
    if (st.dash) path.attr('stroke-dasharray', st.dash);
  });

  // ticks (inward, mirrored on top/right)
  const tickLen = 5;
  xTicks.forEach(t => {
    g.append('line')
      .attr('x1', x(t)).attr('x2', x(t))
      .attr('y1', p.bottom).attr('y2', p.bottom - tickLen)
      .attr('stroke', AXIS_COLOR).attr('stroke-width', 0.8);
    g.append('line')
      .attr('x1', x(t)).attr('x2', x(t))
      .attr('y1', p.top).attr('y2', p.top + tickLen)
      .attr('stroke', AXIS_COLOR).attr('stroke-width', 0.8);
    g.append('text')
      .attr('x', x(t)).attr('y', p.bottom + 13)
      .attr('dy', '0.35em')
      .attr('text-anchor', 'middle')
      .attr('font-family', FONT).attr('font-size', 14)
      .attr('fill', TEXT_COLOR)
      .text(t);
  });
  p.yTicks.forEach(t => {
    g.append('line')
      .attr('x1', p.left).attr('x2', p.left + tickLen)
      .attr('y1', y(t)).attr('y2', y(t))
      .attr('stroke', AXIS_COLOR).attr('stroke-width', 0.8);
    g.append('line')
      .attr('x1', p.right).attr('x2', p.right - tickLen)
      .attr('y1', y(t)).attr('y2', y(t))
      .attr('stroke', AXIS_COLOR).attr('stroke-width', 0.8);
    g.append('text')
      .attr('x', p.left - 5).attr('y', y(t))
      .attr('dy', '0.35em')
      .attr('text-anchor', 'end')
      .attr('font-family', FONT).attr('font-size', 14)
      .attr('fill', TEXT_COLOR)
      .text(t);
  });

  // axes box
  g.append('rect')
    .attr('x', p.left).attr('y', p.top)
    .attr('width', p.right - p.left).attr('height', p.bottom - p.top)
    .attr('fill', 'none')
    .attr('stroke', AXIS_COLOR)
    .attr('stroke-width', 1);

  // axis labels
  g.append('text')
    .attr('x', (p.left + p.right) / 2).attr('y', p.xLabelY)
    .attr('dy', '0.35em')
    .attr('text-anchor', 'middle')
    .attr('font-family', FONT).attr('font-size', 15)
    .attr('fill', TEXT_COLOR)
    .text('Sample points (3h)');
  g.append('text')
    .attr('transform', `translate(${p.yLabelX}, ${(p.top + p.bottom) / 2}) rotate(-90)`)
    .attr('dy', '0.35em')
    .attr('text-anchor', 'middle')
    .attr('font-family', FONT).attr('font-size', 15)
    .attr('fill', TEXT_COLOR)
    .text(p.yLabel);

  // caption under the panel
  g.append('text')
    .attr('x', (p.left + p.right) / 2).attr('y', p.captionY)
    .attr('dy', '0.35em')
    .attr('text-anchor', 'middle')
    .attr('font-family', FONT).attr('font-size', 18)
    .attr('fill', '#1a1a1a')
    .text(p.caption);

  // legend
  const [lx0, lx1, ly0, ly1] = p.legendBox;
  const legend = g.append('g');
  legend.append('rect')
    .attr('x', lx0).attr('y', ly0)
    .attr('width', lx1 - lx0).attr('height', ly1 - ly0)
    .attr('fill', '#fff')
    .attr('stroke', AXIS_COLOR)
    .attr('stroke-width', 1);
  const spacing = (lx1 - lx0 - 74.5) / 5;
  const cy = (ly0 + ly1) / 2;
  seriesNames.forEach((name, k) => {
    const sx = lx0 + 7.5 + k * spacing;
    const st = lineStyles[k];
    const ln = legend.append('line')
      .attr('x1', sx).attr('x2', sx + 18)
      .attr('y1', cy).attr('y2', cy)
      .attr('stroke', st.color)
      .attr('stroke-width', LINE_WIDTH);
    if (st.dash) ln.attr('stroke-dasharray', st.dash);
    legend.append('text')
      .attr('x', sx + 20).attr('y', cy)
      .attr('dy', '0.35em')
      .attr('font-family', FONT).attr('font-size', 13)
      .attr('fill', TEXT_COLOR)
      .text(name);
  });
};

const App: React.FC = () => {
  const svgRef = useRef<SVGSVGElement>(null);

  useEffect(() => {
    if (!svgRef.current) return;
    const svg = d3.select(svgRef.current);
    svg.selectAll('*').remove();
    const root = svg.append('g');
    root.append('rect').attr('width', 1080).attr('height', 613).attr('fill', '#fff');
    panels.forEach((p, i) => drawPanel(root as unknown as G, p, i));
  }, []);

  return (
    <svg
      ref={svgRef}
      width={1080}
      height={613}
      viewBox="0 0 1080 613"
      style={{ position: 'absolute', left: 0, top: 0, display: 'block' }}
    />
  );
};

export default App;
